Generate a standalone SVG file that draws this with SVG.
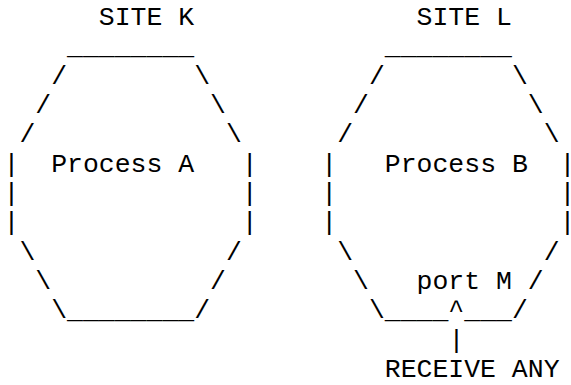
<svg xmlns="http://www.w3.org/2000/svg" width="571" height="385" viewBox="0 0 571 385">
<style>
text{font-family:"Liberation Mono","Courier New",monospace;font-size:26.48px;fill:#000;white-space:pre}
</style>
<rect width="571" height="385" fill="#fff"/>
<g id="site-k">
<text xml:space="preserve" x="3.56" y="25">      SITE K</text>
<text xml:space="preserve" x="3.56" y="54.3">    ________</text>
<text xml:space="preserve" x="3.56" y="83.7">   /        \</text>
<text xml:space="preserve" x="3.56" y="113">  /          \</text>
<text xml:space="preserve" x="3.56" y="142.3"> /            \</text>
<text xml:space="preserve" x="3.56" y="171.7">|  Process A   |</text>
<text xml:space="preserve" x="3.56" y="201">|              |</text>
<text xml:space="preserve" x="3.56" y="230.3">|              |</text>
<text xml:space="preserve" x="3.56" y="259.7"> \            /</text>
<text xml:space="preserve" x="3.56" y="289">  \          /</text>
<text xml:space="preserve" x="3.56" y="318.3">   \________/</text>
</g>
<g id="site-l">
<text xml:space="preserve" x="321.3" y="25">      SITE L</text>
<text xml:space="preserve" x="321.3" y="54.3">    ________</text>
<text xml:space="preserve" x="321.3" y="83.7">   /        \</text>
<text xml:space="preserve" x="321.3" y="113">  /          \</text>
<text xml:space="preserve" x="321.3" y="142.3"> /            \</text>
<text xml:space="preserve" x="321.3" y="171.7">|   Process B  |</text>
<text xml:space="preserve" x="321.3" y="201">|              |</text>
<text xml:space="preserve" x="321.3" y="230.3">|              |</text>
<text xml:space="preserve" x="321.3" y="259.7"> \            /</text>
<text xml:space="preserve" x="321.3" y="289">  \   port M /</text>
<text xml:space="preserve" x="321.3" y="318.3">   \____^___/</text>
</g>
<g id="connectors">
<text xml:space="preserve" x="448.4" y="347.7">|</text>
</g>
<g id="receive-any">
<text xml:space="preserve" x="384.8" y="377">RECEIVE ANY</text>
</g>
</svg>
